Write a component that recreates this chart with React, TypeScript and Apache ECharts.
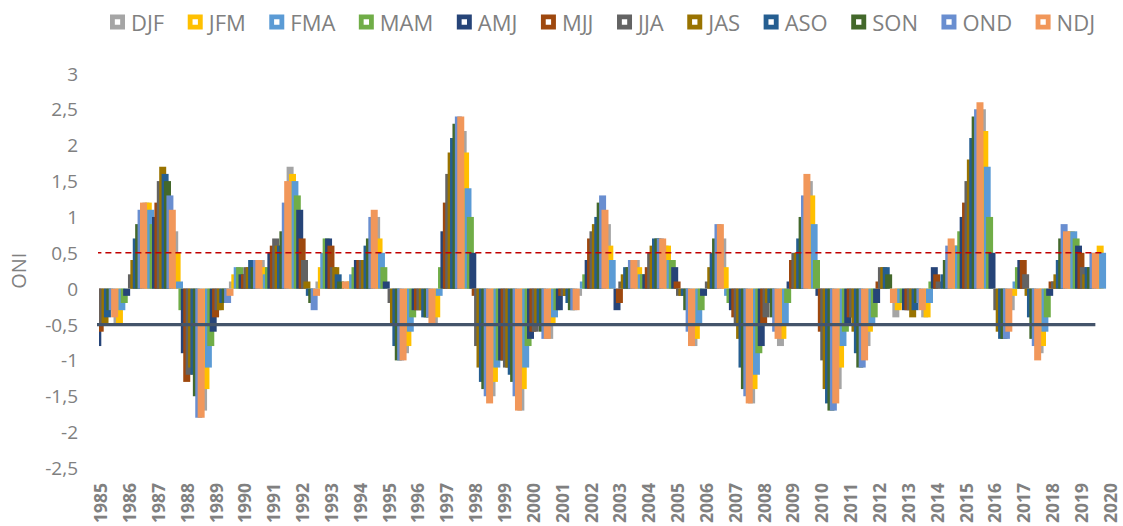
import React, { useEffect, useRef } from "react";
import * as echarts from "echarts";

// ---- Data ----
const seasons = ["DJF", "JFM", "FMA", "MAM", "AMJ", "MJJ", "JJA", "JAS", "ASO", "SON", "OND", "NDJ"];
const seasonColors = ["#A5A5A5", "#FFC000", "#5B9BD5", "#70AD47", "#264478", "#9E480E", "#636363", "#997300", "#255E91", "#43682B", "#698ED0", "#F1975A"];
const years = Array.from({ length: 36 }, (_, i) => String(1985 + i));

const oni1985 = [-1.0, -0.8, -0.8, -0.8, -0.8, -0.6, -0.5, -0.5, -0.4, -0.3, -0.3, -0.4];
const oni1986 = [-0.5, -0.5, -0.3, -0.2, -0.1, 0.0, 0.2, 0.4, 0.7, 0.9, 1.1, 1.2];
const oni1987 = [1.2, 1.2, 1.1, 0.9, 1.0, 1.2, 1.5, 1.7, 1.6, 1.5, 1.3, 1.1];
const oni1988 = [0.8, 0.5, 0.1, -0.3, -0.9, -1.3, -1.2, -1.1, -1.2, -1.5, -1.8, -1.8];
const oni1989 = [-1.7, -1.4, -1.1, -0.8, -0.6, -0.4, -0.3, -0.3, -0.2, -0.2, -0.2, -0.1];
const oni1990 = [0.1, 0.2, 0.3, 0.3, 0.2, 0.2, 0.3, 0.3, 0.4, 0.3, 0.4, 0.4];
const oni1991 = [0.4, 0.3, 0.2, 0.3, 0.5, 0.6, 0.7, 0.6, 0.6, 0.8, 1.2, 1.5];
const oni1992 = [1.7, 1.6, 1.5, 1.3, 1.1, 0.7, 0.4, 0.1, -0.1, -0.2, -0.3, -0.1];
const oni1993 = [0.1, 0.3, 0.5, 0.7, 0.7, 0.6, 0.3, 0.3, 0.2, 0.1, 0.0, 0.1];
const oni1994 = [0.1, 0.1, 0.2, 0.3, 0.4, 0.4, 0.4, 0.4, 0.6, 0.7, 1.0, 1.1];
const oni1995 = [1.0, 0.7, 0.5, 0.3, 0.1, 0.0, -0.2, -0.5, -0.8, -1.0, -1.0, -1.0];
const oni1996 = [-0.9, -0.8, -0.6, -0.4, -0.3, -0.3, -0.3, -0.3, -0.4, -0.4, -0.4, -0.5];
const oni1997 = [-0.5, -0.4, -0.1, 0.3, 0.8, 1.2, 1.6, 1.9, 2.1, 2.3, 2.4, 2.4];
const oni1998 = [2.2, 1.9, 1.4, 1.0, 0.5, -0.1, -0.8, -1.1, -1.3, -1.4, -1.5, -1.6];
const oni1999 = [-1.5, -1.3, -1.1, -1.0, -1.0, -1.0, -1.1, -1.1, -1.2, -1.3, -1.5, -1.7];
const oni2000 = [-1.7, -1.4, -1.1, -0.8, -0.7, -0.6, -0.6, -0.5, -0.5, -0.6, -0.7, -0.7];
const oni2001 = [-0.7, -0.5, -0.4, -0.3, -0.3, -0.1, -0.1, -0.1, -0.2, -0.3, -0.3, -0.3];
const oni2002 = [-0.1, 0.0, 0.1, 0.2, 0.4, 0.7, 0.8, 0.9, 1.0, 1.2, 1.3, 1.1];
const oni2003 = [0.9, 0.6, 0.4, 0.0, -0.3, -0.2, 0.1, 0.2, 0.3, 0.3, 0.4, 0.4];
const oni2004 = [0.4, 0.3, 0.2, 0.2, 0.2, 0.3, 0.5, 0.6, 0.7, 0.7, 0.7, 0.7];
const oni2005 = [0.6, 0.6, 0.4, 0.4, 0.3, 0.1, -0.1, -0.1, -0.1, -0.3, -0.6, -0.8];
const oni2006 = [-0.8, -0.7, -0.5, -0.3, -0.1, 0.0, 0.1, 0.3, 0.5, 0.7, 0.9, 0.9];
const oni2007 = [0.7, 0.3, -0.1, -0.2, -0.3, -0.4, -0.5, -0.7, -1.1, -1.4, -1.5, -1.6];
const oni2008 = [-1.6, -1.4, -1.2, -0.9, -0.8, -0.5, -0.4, -0.2, -0.2, -0.4, -0.6, -0.7];
const oni2009 = [-0.8, -0.7, -0.5, -0.2, 0.1, 0.4, 0.5, 0.5, 0.7, 1.0, 1.3, 1.6];
const oni2010 = [1.5, 1.3, 0.9, 0.4, -0.1, -0.6, -1.0, -1.4, -1.6, -1.7, -1.7, -1.6];
const oni2011 = [-1.4, -1.1, -0.8, -0.6, -0.5, -0.4, -0.4, -0.6, -0.9, -1.1, -1.1, -1.0];
const oni2012 = [-0.8, -0.6, -0.5, -0.4, -0.2, 0.1, 0.3, 0.3, 0.3, 0.2, 0.0, -0.2];
const oni2013 = [-0.4, -0.3, -0.2, -0.2, -0.3, -0.3, -0.3, -0.4, -0.3, -0.2, -0.2, -0.3];
const oni2014 = [-0.4, -0.4, -0.2, 0.1, 0.3, 0.2, 0.1, 0.0, 0.2, 0.4, 0.6, 0.7];
const oni2015 = [0.6, 0.6, 0.6, 0.8, 1.0, 1.2, 1.5, 1.8, 2.1, 2.4, 2.5, 2.6];
const oni2016 = [2.5, 2.2, 1.7, 1.0, 0.5, 0.0, -0.3, -0.6, -0.7, -0.7, -0.7, -0.6];
const oni2017 = [-0.3, -0.1, 0.1, 0.3, 0.4, 0.4, 0.2, -0.1, -0.4, -0.7, -0.8, -1.0];
const oni2018 = [-0.9, -0.8, -0.6, -0.4, -0.1, 0.1, 0.1, 0.2, 0.4, 0.7, 0.9, 0.8];
const oni2019 = [0.8, 0.8, 0.8, 0.7, 0.6, 0.5, 0.3, 0.2, 0.3, 0.3, 0.5, 0.5];
const oni2020 = [0.5, 0.6, 0.5];

const elNinoThreshold = 0.5;
const laNinaThreshold = -0.5;
const thresholdStart = "1985 MAM";
const elNinoLineEnd = "2020 MAM";
const laNinaLineEnd = "2019 NDJ";
const firstShownSlot = "1985 MJJ";
const lastShownSlot = "2020 OND";

const oniByYear = [
  oni1985, oni1986, oni1987, oni1988, oni1989, oni1990, oni1991, oni1992, oni1993,
  oni1994, oni1995, oni1996, oni1997, oni1998, oni1999, oni2000, oni2001, oni2002,
  oni2003, oni2004, oni2005, oni2006, oni2007, oni2008, oni2009, oni2010, oni2011,
  oni2012, oni2013, oni2014, oni2015, oni2016, oni2017, oni2018, oni2019, oni2020,
];

const slots: string[] = [];
years.forEach((y) => seasons.forEach((s) => slots.push(`${y} ${s}`)));

const FONT = "'Open Sans', 'Liberation Sans', sans-serif";
const GRAY = "#808080";

function buildOption() {
  const barSeries = seasons.map((s, si) => {
    const data = slots.map(() => null as number | null);
    oniByYear.forEach((row, yi) => {
      const v = row[si];
      if (v !== undefined) data[yi * 12 + si] = v;
    });
    return {
      type: "bar",
      name: s,
      data,
      barWidth: 7,
      barGap: "-100%",
      itemStyle: { color: seasonColors[si] },
      z: 2,
    };
  });

  const lineData = (value: number, from: string, to: string) => {
    const a = slots.indexOf(from);
    const b = slots.indexOf(to);
    return slots.map((_, i) => (i >= a && i <= b ? value : null));
  };

  const holeIcon = "path://M0,0L14,0L14,14L0,14Z M4.5,4.5L4.5,9.5L9.5,9.5L9.5,4.5Z";

  return {
    animation: false,
    backgroundColor: "#ffffff",
    legend: {
      data: seasons.map((s) => ({ name: s, icon: holeIcon })),
      left: 105,
      top: 6,
      width: 1015,
      itemWidth: 15,
      itemHeight: 15,
      itemGap: 23.5,
      textStyle: { fontSize: 22, color: GRAY, fontFamily: FONT, padding: [0, 0, 0, 1] },
    },
    grid: { left: 95.9, top: 73.5, width: 1028.5, height: 396 },
    xAxis: {
      type: "category",
      data: slots,
      min: slots.indexOf(firstShownSlot),
      max: slots.indexOf(lastShownSlot),
      axisLine: { show: false },
      axisTick: { show: false },
      splitLine: { show: false },
      axisLabel: {
        rotate: 90,
        interval: (index: number) => index % 12 === 5,
        formatter: (v: string) => v.slice(0, 4),
        fontSize: 17.5,
        fontWeight: "bold",
        color: GRAY,
        fontFamily: FONT,
        margin: 15,
      },
    },
    yAxis: {
      type: "value",
      min: -2.5,
      max: 3,
      interval: 0.5,
      name: "ONI",
      nameLocation: "middle",
      nameGap: 71,
      nameTextStyle: { fontSize: 20, color: GRAY, fontFamily: FONT },
      axisLine: { show: false },
      axisTick: { show: false },
      splitLine: { show: false },
      axisLabel: {
        fontSize: 19,
        color: GRAY,
        fontFamily: FONT,
        margin: 21,
        formatter: (v: number) => String(v).replace(".", ","),
      },
    },
    series: [
      ...barSeries,
      {
        type: "line",
        name: "El Niño threshold",
        data: lineData(elNinoThreshold, thresholdStart, elNinoLineEnd),
        symbol: "none",
        lineStyle: { color: "#C00000", width: 1.6, type: [6, 4] },
        z: 5,
      },
      {
        type: "line",
        name: "La Niña threshold",
        data: lineData(laNinaThreshold, thresholdStart, laNinaLineEnd),
        symbol: "none",
        lineStyle: { color: "#44546A", width: 3.2 },
        z: 5,
      },
    ],
  };
}

export default function App() {
  const ref = useRef<HTMLDivElement>(null);
  useEffect(() => {
    if (!ref.current) return;
    const chart = echarts.init(ref.current, undefined, { renderer: "svg" });
    chart.setOption(buildOption() as any);
    return () => chart.dispose();
  }, []);
  return (
    <div
      ref={ref}
      style={{ position: "fixed", left: 0, top: 0, width: 1123, height: 526, background: "#fff" }}
    />
  );
}
